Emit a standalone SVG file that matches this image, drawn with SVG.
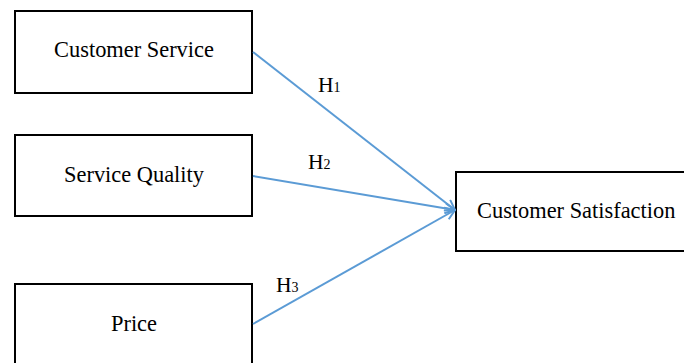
<svg xmlns="http://www.w3.org/2000/svg" width="684" height="363" viewBox="0 0 684 363">
<defs>
<style>
.box{fill:#fff;stroke:#000;stroke-width:2}
.lbl{font-family:"Liberation Serif","Times New Roman",serif;font-size:22.4px;fill:#000}
.h{font-family:"Liberation Serif","Times New Roman",serif;font-size:21.5px;fill:#000}
.edge{stroke:#5B9BD5;stroke-width:2;fill:none;marker-end:url(#arr)}
</style>
<marker id="arr" viewBox="0 0 12 12" refX="11" refY="6" markerWidth="6" markerHeight="6" orient="auto" markerUnits="strokeWidth">
<path d="M1,1 L11,6 L1,11" fill="none" stroke="#5B9BD5" stroke-width="2"/>
</marker>
</defs>
<rect width="684" height="363" fill="#fff"/>
<g id="n1"><rect class="box" x="15" y="11" width="237" height="82"/><text class="lbl" x="134" y="57" text-anchor="middle">Customer Service</text></g>
<g id="n2"><rect class="box" x="15" y="135" width="237" height="81"/><text class="lbl" x="134" y="182" text-anchor="middle">Service Quality</text></g>
<g id="n3"><rect class="box" x="15" y="284" width="237" height="90"/><text class="lbl" x="134" y="331" text-anchor="middle">Price</text></g>
<g id="n4"><rect class="box" x="456" y="172" width="240" height="79"/><text class="lbl" x="477" y="218">Customer Satisfaction</text></g>
<g id="edges">
<line class="edge" x1="253" y1="52" x2="455" y2="210"/>
<line class="edge" x1="253" y1="176" x2="455" y2="210"/>
<line class="edge" x1="253" y1="324" x2="455" y2="210"/>
<text class="h" x="318" y="92">H<tspan font-size="14">1</tspan></text>
<text class="h" x="308" y="169">H<tspan font-size="14">2</tspan></text>
<text class="h" x="276" y="292">H<tspan font-size="14">3</tspan></text>
</g>
</svg>
